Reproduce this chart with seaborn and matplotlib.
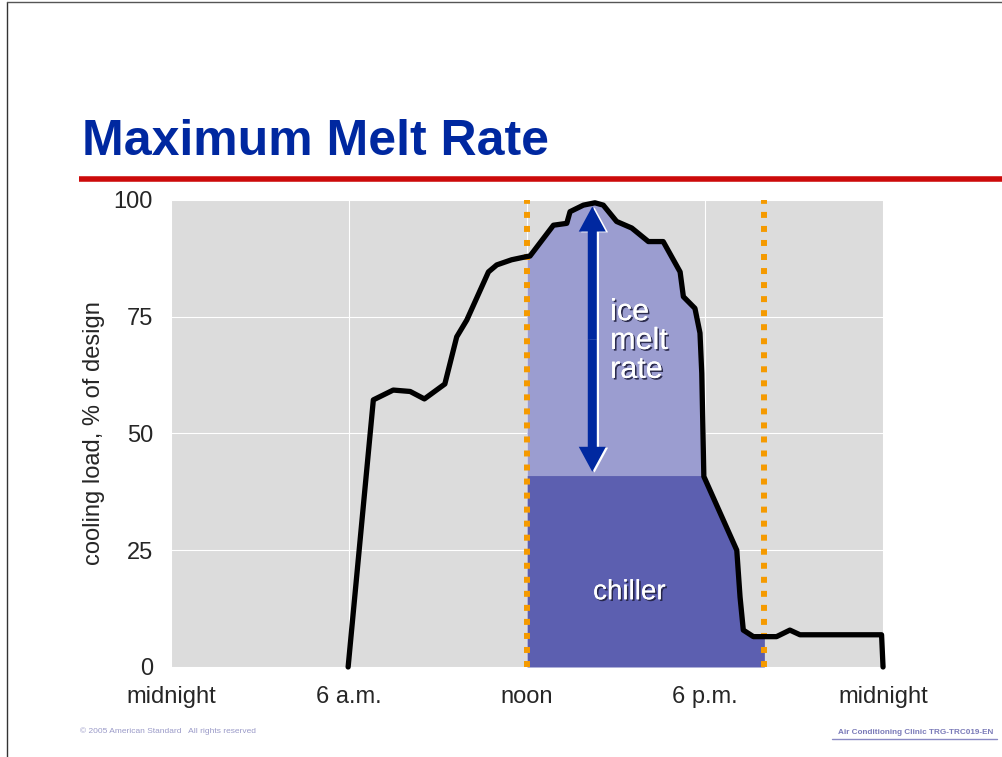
import numpy as np
import pandas as pd
import matplotlib
matplotlib.use("Agg")
import matplotlib.pyplot as plt
import matplotlib.patheffects as pe
import seaborn as sns

# cooling load profile, hours after midnight vs % of design load
hours = [5.97, 6.82, 7.49, 8.06, 8.54, 9.23, 9.63, 9.97, 10.7, 10.98, 11.48, 12.0,
         12.1, 12.89, 13.34, 13.45, 13.9, 14.29, 14.57, 15.02, 15.53, 16.09, 16.59,
         17.16, 17.27, 17.66, 17.83, 17.89, 17.96, 19.07, 19.18, 19.29, 19.63, 20.0,
         20.41, 20.86, 21.2, 23.95, 24.0]
load = [0, 57.2, 59.3, 59.0, 57.4, 60.6, 70.7, 74.3, 84.6, 86.1, 87.2, 87.9,
        88.0, 94.6, 95.0, 97.5, 98.9, 99.4, 98.9, 95.4, 94.0, 91.1, 91.1,
        84.6, 79.3, 76.8, 71.5, 62.9, 40.8, 25.0, 15.0, 7.9, 6.5, 6.5,
        6.5, 7.9, 6.9, 6.9, 0]

chiller_cap = 41.0
window_start, window_end = 12, 20
melt_arrow_hour = 14.2
melt_arrow_top = 98.6
xticks = [0, 6, 12, 18, 24]
xtick_labels = ["midnight", "6 a.m.", "noon", "6 p.m.", "midnight"]
yticks = [0, 25, 50, 75, 100]

df = pd.DataFrame({"hour": hours, "load": load})

sns.set_style("darkgrid", {"axes.facecolor": "#dcdcdc", "grid.color": "white",
                           "grid.linewidth": 1.2})
plt.rcParams["font.family"] = ["Liberation Sans", "DejaVu Sans"]

fig = plt.figure(figsize=(10.03, 7.57), dpi=100)
ax = fig.add_axes([0.1705, 0.1189, 0.7099, 0.6169])

# shaded areas inside the on-peak window
win = df[(df.hour >= window_start) & (df.hour <= window_end)]
ax.fill_between(win.hour, 0, np.minimum(win.load, chiller_cap),
                color="#5c5fb0", lw=0, zorder=2)
ax.fill_between(win.hour, chiller_cap, np.maximum(win.load, chiller_cap),
                color="#9b9dd0", lw=0, zorder=2)

# orange window markers
for xv in (window_start, window_end):
    ax.axvline(xv, color="#f59a00", lw=4.3, ls=(0, (1.0, 1.35)), zorder=3)

sns.lineplot(data=df, x="hour", y="load", estimator=None, sort=False,
             color="black", lw=3.8, ax=ax, zorder=4)
for ln in ax.lines[-1:]:
    ln.set_clip_on(False)

# ice melt rate arrow: two simple heads pointing out from the middle,
# first pass draws the white offset edge, second pass the blue arrow
mid = (chiller_cap + 0.8 + melt_arrow_top) / 2
style = "simple,head_length=1.8,head_width=1.95,tail_width=0.65"
passes = [([pe.SimplePatchShadow(offset=(1.6, -0.6), shadow_rgbFace="white", alpha=1.0)], 5),
          ([pe.Normal()], 5.1)]
for fx, z in passes:
    for tip in (melt_arrow_top, chiller_cap + 0.8):
        ax.annotate("", xy=(melt_arrow_hour, tip), xytext=(melt_arrow_hour, mid),
                    arrowprops=dict(arrowstyle=style, fc="#0028a0", ec="none", lw=0,
                                    mutation_scale=10, shrinkA=0, shrinkB=0,
                                    path_effects=fx),
                    zorder=z)

shadow = [pe.withSimplePatchShadow(offset=(1.2, -1.2), shadow_rgbFace="#202040",
                                   alpha=0.9), pe.Normal()]
ax.text(14.8, 79.2, "ice\nmelt\nrate", color="white", fontsize=22,
        linespacing=0.95, va="top", ha="left", path_effects=shadow, zorder=6)
ax.text(15.45, 16, "chiller", color="white", fontsize=20, ha="center",
        va="center", path_effects=shadow, zorder=6)

ax.set_xlim(0, 24)
ax.set_ylim(0, 100)
ax.set_xticks(xticks)
ax.set_xticklabels(xtick_labels)
ax.set_yticks(yticks)
ax.tick_params(axis="x", labelsize=17, pad=14, length=0)
ax.tick_params(axis="y", labelsize=17, pad=13, length=0)
ax.set_xlabel("")
ax.set_ylabel("cooling load, % of design", fontsize=17, labelpad=6)
for s in ax.spines.values():
    s.set_visible(False)

# slide decoration
fig.text(0.082, 0.795, "Maximum Melt Rate", fontsize=36, fontweight="bold",
         color="#0028a0", va="baseline")
fig.add_artist(plt.Line2D([0.079, 1.0], [0.7635, 0.7635], color="#cc0a0a", lw=4.0,
                          solid_capstyle="butt"))
fig.add_artist(plt.Line2D([0.007, 0.007], [0.0, 0.997], color="#333333", lw=1.0))
fig.add_artist(plt.Line2D([0.007, 1.0], [0.997, 0.997], color="#555555", lw=1.0))
fig.text(0.08, 0.034, "\u00a9 2005 American Standard   All rights reserved", fontsize=6.0,
         color="#9a9ac8", va="center")
fig.text(0.99, 0.033, "Air Conditioning Clinic TRG-TRC019-EN", fontsize=5.9,
         fontweight="bold", color="#7a7ab8", ha="right", va="center")
fig.add_artist(plt.Line2D([0.830, 0.994], [0.0238, 0.0238], color="#8a8ac4", lw=1.0))

fig.savefig("out.png", dpi=100)
